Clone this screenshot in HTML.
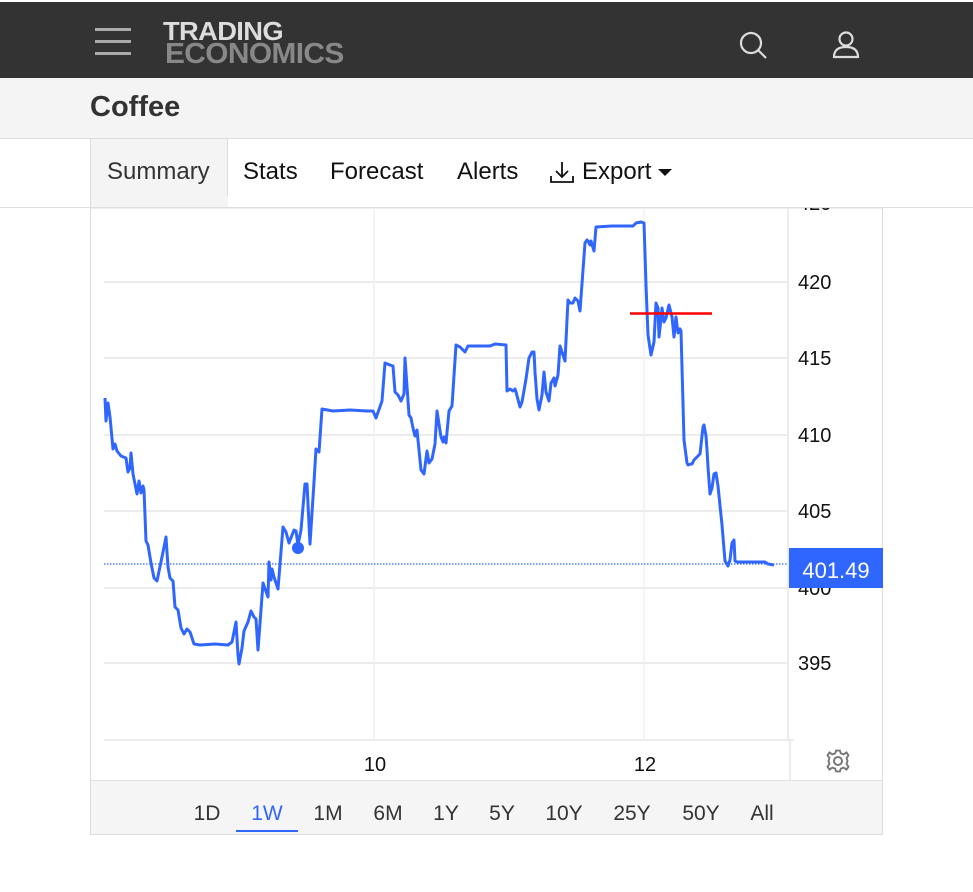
<!DOCTYPE html>
<html><head><meta charset="utf-8"><style>
body{margin:0;width:973px;height:892px;background:#fff;font-family:"Liberation Sans",Arial,sans-serif;position:relative;overflow:hidden}
.a{position:absolute}
</style></head><body>
<div class="a" style="left:0;top:2px;width:973px;height:76px;background:#333"></div>
<div class="a" style="left:95px;top:28px;width:36px;height:3px;background:#aaa;box-shadow:0 12px 0 #aaa,0 24px 0 #aaa"></div>
<div class="a" style="left:163px;top:20px;font-weight:bold;font-size:26px;line-height:22px;color:#ddd;letter-spacing:-0.6px;transform:scaleX(1.05);transform-origin:left">TRADING</div>
<div class="a" style="left:165px;top:42px;font-weight:bold;font-size:29px;line-height:25px;color:#888;letter-spacing:-0.6px;transform:scaleX(1.03);transform-origin:left">ECONOMICS</div>
<svg class="a" style="left:735px;top:28px" width="130" height="34"><circle cx="16" cy="15" r="10" fill="none" stroke="#ddd" stroke-width="2.2"/><line x1="23" y1="22" x2="31" y2="30" stroke="#ddd" stroke-width="2.2"/><circle cx="111" cy="11" r="6.5" fill="none" stroke="#ddd" stroke-width="2.2"/><path d="M99 29 Q99 19 111 19 Q123 19 123 29 Z" fill="none" stroke="#ddd" stroke-width="2.2"/></svg>
<div class="a" style="left:0;top:78px;width:973px;height:60px;background:#f4f4f4;border-bottom:1px solid #ddd"></div>
<div class="a" style="left:90px;top:91px;font-size:29px;font-weight:bold;color:#333">Coffee</div>
<div class="a" style="left:90px;top:139px;width:138px;height:68px;background:#f4f4f4;border-right:1px solid #ddd;border-left:1px solid #ddd;box-sizing:border-box"></div>
<div class="a" style="top:158px;font-size:24px;color:#333;left:107px">Summary</div>
<div class="a" style="top:158px;font-size:24px;color:#111;left:243px">Stats</div>
<div class="a" style="top:158px;font-size:24px;color:#111;left:330px">Forecast</div>
<div class="a" style="top:158px;font-size:24px;color:#111;left:457px">Alerts</div>
<svg class="a" style="left:549px;top:160px" width="26" height="26"><path d="M13 2 V17 M7 11 L13 17 L19 11 M2 16 V22 H24 V16" fill="none" stroke="#111" stroke-width="1.8"/></svg>
<div class="a" style="top:158px;font-size:24px;color:#111;left:582px">Export</div>
<svg class="a" style="left:657px;top:168px" width="16" height="10"><path d="M1 1 L15 1 L8 8 Z" fill="#111"/></svg>
<svg class="a" style="left:0;top:0" width="973" height="892">
<rect x="90.5" y="208" width="792" height="626.5" fill="none" stroke="#ddd"/>
<g stroke="#e6e6e6" stroke-width="1.5">
<line x1="104" y1="282" x2="787" y2="282"/><line x1="104" y1="358" x2="787" y2="358"/><line x1="104" y1="435" x2="787" y2="435"/><line x1="104" y1="511" x2="787" y2="511"/><line x1="104" y1="588" x2="787" y2="588"/><line x1="104" y1="663" x2="787" y2="663"/><line x1="104" y1="740" x2="794" y2="740"/>
<line x1="374" y1="208" x2="374" y2="740" stroke="#eef0f4"/><line x1="644" y1="208" x2="644" y2="740" stroke="#eef0f4"/>
<line x1="788" y1="208" x2="788" y2="740"/><line x1="790" y1="740" x2="790" y2="780"/>
</g>
<g font-size="20" fill="#111" font-family="Liberation Sans,sans-serif">
<text x="798" y="210">420</text><text x="798" y="289">420</text><text x="798" y="365">415</text><text x="798" y="442">410</text><text x="798" y="518">405</text><text x="798" y="595">400</text><text x="798" y="670">395</text>
<text x="375" y="771" text-anchor="middle">10</text><text x="645" y="771" text-anchor="middle">12</text>
</g>
<rect x="0" y="139" width="973" height="68" fill="none"/>
<rect x="0" y="196" width="90" height="11" fill="#fff"/><rect x="229" y="196" width="744" height="11" fill="#fff"/><rect x="91" y="196" width="137" height="11" fill="#f4f4f4"/>
<line x1="0" y1="207.5" x2="973" y2="207.5" stroke="#ddd"/>
<line x1="104" y1="564" x2="788" y2="564" stroke="#2f66ff" stroke-width="1.2" stroke-dasharray="1.5 1.5"/>
<polyline fill="none" stroke="#2f66ff" stroke-width="3" stroke-linejoin="round" points="105,398 106,421 108,403 110,417 113,449 115,444 117,451 121,456 126,458 128,472 130,468 131,453 133,474 135,484 137,494 139,481 141,493 143,486 144,490 146,541 148,545 151,563 154,578 157,581 162,557 166,537 168,567 170,578 173,581 175,607 178,610 181,628 184,634 187,629 190,632 194,644 200,645 215,644 228,645 232,642 236,622 238,655 239,664 242,648 244,631 248,622 251,611 254,617 256,619 258,650 263,583 268,597 269,562 271,580 272,569 274,577 278,589 283,527 286,532 289,543 294,530 296,531 298,545 301,530 305,484 307,484 310,544 314,482 316,449 319,452 322,409 333,411 350,410 367,411 373,411 376,418 382,401 385,363 390,365 393,366 395,392 398,395 401,401 404,394 405,358 409,415 411,418 413,428 415,436 417,430 421,470 424,474 427,451 429,463 432,459 435,444 437,411 441,437 443,442 444,437 446,443 449,411 452,406 456,345 460,347 465,352 468,346 477,346 490,346 495,344 506,345 507,391 510,389 513,391 515,389 516,392 520,407 522,402 526,379 529,358 532,352 534,352 535,372 537,399 539,410 542,395 544,372 546,392 549,401 551,383 554,378 555,386 558,375 560,346 565,361 568,300 570,303 573,303 575,298 578,301 580,311 585,243 587,240 588,241 590,245 591,241 594,251 596,227 612,226 633,226 636,223 641,222 644,223 646,285 648,335 651,355 654,342 656,303 658,308 659,337 661,319 662,308 664,322 666,318 669,305 672,317 674,337 676,317 678,333 680,329 681,331 684,440 687,463 688,465 691,464 692,464 694,460 700,454 703,427 704,425 706,436 707,450 708,467 710,494 712,488 714,474 716,473 718,486 722,525 725,561 728,566 730,560 732,543 734,540 735,561 737,562 765,562 768,564 774,565"/>
<circle cx="298" cy="548" r="6" fill="#2f66ff"/>
<line x1="630" y1="313.5" x2="712" y2="313.5" stroke="#ff0000" stroke-width="2.5"/>
<rect x="789" y="548" width="94" height="40" fill="#2f66ff"/>
<text x="836" y="578" text-anchor="middle" font-size="22" fill="#fff" font-family="Liberation Sans,sans-serif">401.49</text>
<g transform="translate(838,761)" fill="none" stroke="#777" stroke-width="2"><circle r="4"/><path d="M-2,-11 L2,-11 L3,-8 L6,-7 L9,-9 L11,-6 L9,-3 L10,0 L9,3 L11,6 L9,9 L6,7 L3,8 L2,11 L-2,11 L-3,8 L-6,7 L-9,9 L-11,6 L-9,3 L-10,0 L-9,-3 L-11,-6 L-9,-9 L-6,-7 L-3,-8 Z" transform="scale(0.95)"/></g>
<rect x="91" y="781" width="791" height="53" fill="#f5f5f5"/><line x1="91" y1="780.5" x2="882" y2="780.5" stroke="#e2e2e2"/>
<g font-size="21" fill="#333" text-anchor="middle" font-family="Liberation Sans,sans-serif">
<text x="207" y="820">1D</text><text x="267" y="820" fill="#2f66ff">1W</text><text x="328" y="820">1M</text><text x="388" y="820">6M</text><text x="446" y="820">1Y</text><text x="502" y="820">5Y</text><text x="564" y="820">10Y</text><text x="632" y="820">25Y</text><text x="701" y="820">50Y</text><text x="762" y="820">All</text></g>
<line x1="236" y1="831" x2="298" y2="831" stroke="#2f66ff" stroke-width="2"/>
</svg>
</body></html>
